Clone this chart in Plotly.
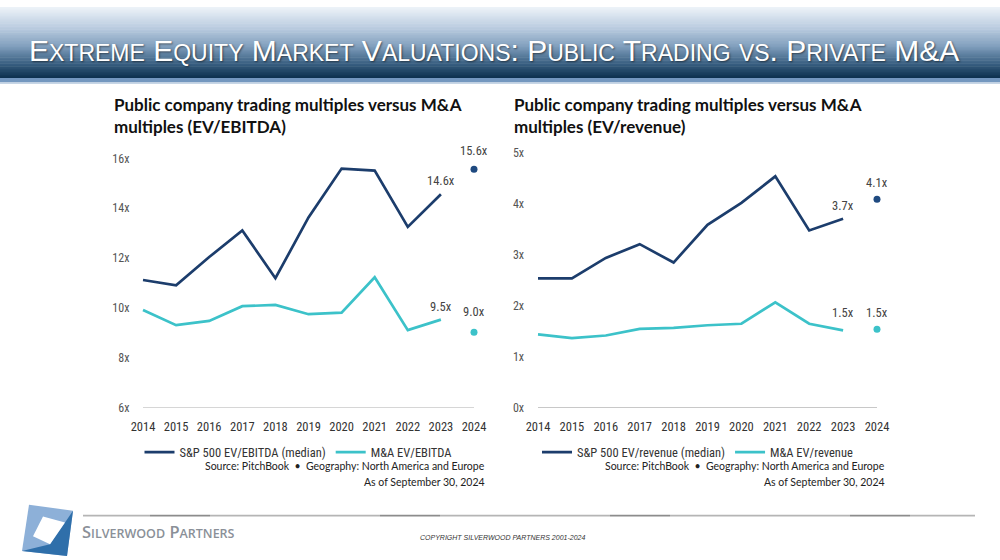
import plotly.graph_objects as go

# ---------------- data ----------------
years = list(range(2014, 2025))
hist_years = years[:-1]
year_labels = [str(y) for y in years]

ebitda_sp500 = [11.12, 10.91, 12.04, 13.11, 11.19, 13.63, 15.59, 15.51, 13.25, 14.56]
ebitda_ma = [9.92, 9.31, 9.48, 10.07, 10.12, 9.75, 9.81, 11.23, 9.11, 9.53]
ebitda_sp500_2024 = 15.56
ebitda_ma_2024 = 9.03

rev_sp500 = [2.54, 2.54, 2.94, 3.21, 2.85, 3.59, 4.02, 4.54, 3.48, 3.71]
rev_ma = [1.44, 1.37, 1.42, 1.55, 1.57, 1.62, 1.65, 2.07, 1.65, 1.52]
rev_sp500_2024 = 4.09
rev_ma_2024 = 1.54

ebitda_ticks = [6, 8, 10, 12, 14, 16]
rev_ticks = [0, 1, 2, 3, 4, 5]

page_title = "Extreme Equity Market Valuations: Public Trading vs. Private M&amp;A"
left_title = "Public company trading multiples versus M&amp;A<br>multiples (EV/EBITDA)"
right_title = "Public company trading multiples versus M&amp;A<br>multiples (EV/revenue)"
left_names = ["S&P 500 EV/EBITDA (median)", "M&A EV/EBITDA"]
right_names = ["S&P 500 EV/revenue (median)", "M&A EV/revenue"]
source_lines = ["Source: PitchBook  \u2022  Geography: North America and Europe",
                "As of September 30, 2024"]
company = "Silverwood Partners"
copyright_text = "COPYRIGHT SILVERWOOD PARTNERS 2001-2024"

# ---------------- style ----------------
W, H = 1000, 560
SY = 1.011  # vertical compensation
NAVY = "#1c3d6c"
NAVY_DOT = "#1f4a80"
TEAL = "#3cc2c9"
NARROW = "Liberation Sans Narrow, Arial Narrow, Roboto Condensed, sans-serif"
HUM = "Lato, Open Sans, sans-serif"


def py(y):
    return 1 - (y * SY) / H


def px(x, y):
    return x / W, py(y)


def smallcaps(s, small_size):
    out, buf, low = [], "", None
    i = 0
    tokens = []
    while i < len(s):
        if s[i] == "&":
            j = s.index(";", i)
            tokens.append(s[i:j + 1])
            i = j + 1
        else:
            tokens.append(s[i])
            i += 1
    for t in tokens:
        is_low = len(t) == 1 and t.islower()
        if low is None or is_low == low:
            buf += t
        else:
            out.append((buf, low))
            buf = t
        low = is_low
    out.append((buf, low))
    res = ""
    for txt, lw in out:
        if lw:
            res += f"<span style='font-size:{small_size}px'>{txt.upper()}</span>"
        else:
            res += txt
    return res


fig = go.Figure()

# left chart traces
fig.add_trace(go.Scatter(x=hist_years, y=ebitda_sp500, mode="lines", name=left_names[0],
                         line=dict(color=NAVY, width=2.7), xaxis="x", yaxis="y", legend="legend"))
fig.add_trace(go.Scatter(x=hist_years, y=ebitda_ma, mode="lines", name=left_names[1],
                         line=dict(color=TEAL, width=2.7), xaxis="x", yaxis="y", legend="legend"))
fig.add_trace(go.Scatter(x=[years[-1]], y=[ebitda_sp500_2024], mode="markers", showlegend=False,
                         marker=dict(color=NAVY_DOT, size=7), xaxis="x", yaxis="y", cliponaxis=False))
fig.add_trace(go.Scatter(x=[years[-1]], y=[ebitda_ma_2024], mode="markers", showlegend=False,
                         marker=dict(color=TEAL, size=7), xaxis="x", yaxis="y", cliponaxis=False))

# right chart traces
fig.add_trace(go.Scatter(x=hist_years, y=rev_sp500, mode="lines", name=right_names[0],
                         line=dict(color=NAVY, width=2.7), xaxis="x2", yaxis="y2", legend="legend2"))
fig.add_trace(go.Scatter(x=hist_years, y=rev_ma, mode="lines", name=right_names[1],
                         line=dict(color=TEAL, width=2.7), xaxis="x2", yaxis="y2", legend="legend2"))
fig.add_trace(go.Scatter(x=[years[-1]], y=[rev_sp500_2024], mode="markers", showlegend=False,
                         marker=dict(color=NAVY_DOT, size=7), xaxis="x2", yaxis="y2", cliponaxis=False))
fig.add_trace(go.Scatter(x=[years[-1]], y=[rev_ma_2024], mode="markers", showlegend=False,
                         marker=dict(color=TEAL, size=7), xaxis="x2", yaxis="y2", cliponaxis=False))

tickfont_y = dict(family=NARROW, size=12, color="#555555")
tickfont_x = dict(family=NARROW, size=12.5, color="#333333")

X0 = 2013.62
xcommon = dict(range=[X0, 2024.5], tickvals=years, ticktext=year_labels, showgrid=False,
               zeroline=False, showline=False, ticks="outside", ticklen=7,
               tickcolor="rgba(0,0,0,0)", tickfont=tickfont_x, fixedrange=True)
ycommon = dict(showgrid=False, zeroline=False, showline=False, ticks="",
               tickfont=tickfont_y, fixedrange=True)

# pixel anchors: left chart 2014->143px, 2024->474px ; right chart 2014->538px, 2024->877px
lpy = (474 - 143) / 10
rpy = (877 - 538) / 10
ldom = [(143 - (2014 - X0) * lpy) / W, (474 + 0.5 * lpy) / W]
rdom = [(538 - (2014 - X0) * rpy) / W, (877 + 0.5 * rpy) / W]

fig.update_layout(
    xaxis=dict(domain=ldom, anchor="y", **xcommon),
    yaxis=dict(domain=[py(406.5), py(153.5)], anchor="x",
               range=[ebitda_ticks[0], ebitda_ticks[-1]],
               tickvals=ebitda_ticks, ticktext=[f"{t}x" for t in ebitda_ticks], **ycommon),
    xaxis2=dict(domain=rdom, anchor="y2", **xcommon),
    yaxis2=dict(domain=[py(406.7), py(148)], anchor="x2",
                range=[rev_ticks[0], rev_ticks[-1]],
                tickvals=rev_ticks, ticktext=[f"{t}x" for t in rev_ticks], **ycommon),
)

legend_common = dict(orientation="h", yanchor="middle", xanchor="center",
                     font=dict(family=NARROW, size=12.5, color="#333333"),
                     bgcolor="rgba(0,0,0,0)", itemclick=False, itemdoubleclick=False)
fig.update_layout(
    legend=dict(x=0.2985, y=py(452), **legend_common),
    legend2=dict(x=0.6975, y=py(452), **legend_common),
)

shapes = []
annotations = []

# header gradient
stops = [(0.0, (236, 242, 248)), (0.3, (184, 202, 222)), (0.55, (130, 160, 190)),
         (0.8, (58, 96, 130)), (1.0, (14, 50, 80))]


def grad(t):
    for (t0, c0), (t1, c1) in zip(stops[:-1], stops[1:]):
        if t0 <= t <= t1:
            f = (t - t0) / (t1 - t0)
            return "rgb(%d,%d,%d)" % tuple(round(a + (b - a) * f) for a, b in zip(c0, c1))
    return "rgb(14,50,80)"


HEAD = 72
n = 48
for i in range(n):
    y0 = HEAD * i / n
    y1 = HEAD * (i + 1) / n + 0.6
    x0, yy0 = px(0, y0)
    x1, yy1 = px(W, y1)
    shapes.append(dict(type="rect", xref="paper", yref="paper", x0=x0, x1=x1, y0=yy1, y1=yy0,
                       fillcolor=grad(i / (n - 1)), line=dict(width=0), layer="below"))
a = py(72)
b = py(76.5)
shapes.append(dict(type="rect", xref="paper", yref="paper", x0=0, x1=1, y0=b, y1=a,
                   fillcolor="#7397bf", line=dict(width=0), layer="below"))
c = py(78)
shapes.append(dict(type="rect", xref="paper", yref="paper", x0=0, x1=1, y0=c, y1=b,
                   fillcolor="#c7d6e6", line=dict(width=0), layer="below"))

tx, ty = px(27, 44)
annotations.append(dict(text=smallcaps(page_title, 23), x=tx, y=ty, xref="paper", yref="paper",
                        xanchor="left", yanchor="middle", showarrow=False,
                        font=dict(family="Liberation Sans, Arial, sans-serif", size=30, color="white",
                                  shadow="1px 1px 2px rgba(0,0,0,0.5)")))

# chart titles
for x, t in [(112, left_title), (512, right_title)]:
    ax, ay = px(x, 86)
    annotations.append(dict(text=f"<b>{t}</b>", x=ax, y=ay, xref="paper", yref="paper",
                            xanchor="left", yanchor="top", align="left", showarrow=False,
                            font=dict(family=HUM, size=17, color="#111111")))

# baselines
for xr, yr, base in [("x", "y", ebitda_ticks[0]), ("x2", "y2", rev_ticks[0])]:
    shapes.append(dict(type="line", xref=xr, yref=yr, x0=years[0], x1=years[-1], y0=base, y1=base,
                       line=dict(color="#c8c8c8", width=1.6), layer="below"))

# data labels
labels = [
    ("x", "y", hist_years[-1], ebitda_sp500[-1], 4),
    ("x", "y", years[-1], ebitda_sp500_2024, 9),
    ("x", "y", hist_years[-1], ebitda_ma[-1], 4),
    ("x", "y", years[-1], ebitda_ma_2024, 11),
    ("x2", "y2", hist_years[-1], rev_sp500[-1], 4),
    ("x2", "y2", years[-1], rev_sp500_2024, 7),
    ("x2", "y2", hist_years[-1], rev_ma[-1], 8),
    ("x2", "y2", years[-1], rev_ma_2024, 7),
]
for xr, yr, x, v, shift in labels:
    annotations.append(dict(text=f"{v:.1f}x", x=x, y=v, xref=xr, yref=yr, xanchor="center",
                            yanchor="bottom", yshift=shift, showarrow=False,
                            font=dict(family=NARROW, size=12.5, color="#444444")))

# source notes
for xr in [487, 887]:
    for k, (line, yy) in enumerate(zip(source_lines, [466, 482])):
        ax, ay = px(xr, yy)
        annotations.append(dict(text=line, x=ax, y=ay, xref="paper", yref="paper",
                                xanchor="right", yanchor="middle", showarrow=False,
                                font=dict(family=HUM, size=10.5, color="#222222")))

# footer line
segs = [(83, 150, "#b5b5b5"), (150, 210, "#8c8c8c"), (210, 380, "#b5b5b5"), (380, 440, "#8c8c8c"),
        (440, 610, "#b5b5b5"), (610, 670, "#8c8c8c"), (670, 850, "#b5b5b5"), (850, 910, "#8c8c8c"),
        (910, 975, "#b5b5b5")]
for s0, s1, col in segs:
    x0, y0 = px(s0, 516)
    x1, _ = px(s1, 516)
    shapes.append(dict(type="line", xref="paper", yref="paper", x0=x0, x1=x1, y0=y0, y1=y0,
                       line=dict(color=col, width=1.6)))

# logo


def path(points):
    p = "M " + " L ".join("%.5f,%.5f" % px(x, y) for x, y in points) + " Z"
    return p


shapes.append(dict(type="path", xref="paper", yref="paper",
                   path=path([(29, 505), (73, 511), (67, 557), (22, 552)]),
                   fillcolor="#8db0d8", line=dict(width=0)))
shapes.append(dict(type="path", xref="paper", yref="paper",
                   path=path([(73, 511), (67, 557), (22, 552), (50, 545), (65, 523)]),
                   fillcolor="#2f6faa", line=dict(width=0)))
shapes.append(dict(type="path", xref="paper", yref="paper",
                   path=path([(43, 517), (65, 523), (50, 545), (33, 537)]),
                   fillcolor="white", line=dict(width=0)))

cx, cy = px(80, 532)
annotations.append(dict(text=smallcaps(company, 12.5), x=cx, y=cy, xref="paper", yref="paper",
                        xanchor="left", yanchor="middle", showarrow=False,
                        font=dict(family="Open Sans, sans-serif", size=16.5, color="#8a9098",
                                  weight=600)))
cx, cy = px(502, 538)
annotations.append(dict(text=f"<i>{copyright_text}</i>", x=cx, y=cy, xref="paper", yref="paper",
                        xanchor="center", yanchor="middle", showarrow=False,
                        font=dict(family="Liberation Sans, Arial, sans-serif", size=7, color="#333333")))

fig.update_layout(shapes=shapes, annotations=annotations, width=W, height=H,
                  margin=dict(l=0, r=0, t=0, b=0), paper_bgcolor="white", plot_bgcolor="white",
                  showlegend=True, hovermode=False)

post = """
var de = document.documentElement, bd = document.body;
de.style.margin = '0'; de.style.padding = '0'; de.style.height = '560px'; de.style.overflow = 'hidden';
bd.style.margin = '0'; bd.style.padding = '0'; bd.style.height = '560px'; bd.style.overflow = 'hidden';
var gd = document.getElementById('{plot_id}');
if (gd && gd.parentNode) { gd.parentNode.style.height = '560px'; gd.parentNode.style.overflow = 'hidden'; }
"""
fig.write_html("out.html", config={"displayModeBar": False}, post_script=post)
